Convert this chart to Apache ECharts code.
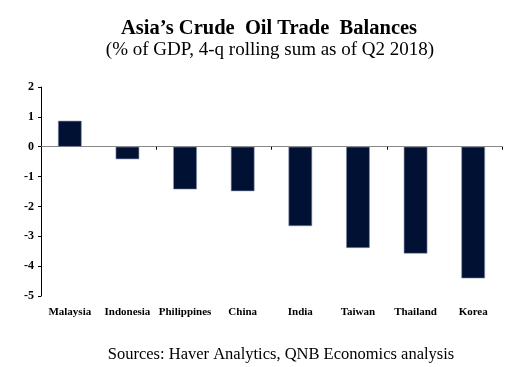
<!DOCTYPE html>
<html><head><meta charset="utf-8">
<script src="https://cdn.jsdelivr.net/npm/echarts@6/dist/echarts.min.js"></script>
<style>html,body{margin:0;padding:0;background:#fff}#c{width:520px;height:367px}</style>
</head><body><div id="c"></div>
<script>
const categories = ['Malaysia','Indonesia','Philippines','China','India','Taiwan','Thailand','Korea'];
const values = [0.87, -0.42, -1.43, -1.49, -2.66, -3.39, -3.58, -4.41];
const yTicks = {min: -5, max: 2, interval: 1};
const titleText = 'Asia\u2019s Crude  Oil Trade  Balances';
const subtitleText = '(% of GDP, 4-q rolling sum as of Q2 2018)';
const sourceText = 'Sources: Haver Analytics, QNB Economics analysis';

const serif = '"Liberation Serif", "Times New Roman", serif';
const chart = echarts.init(document.getElementById('c'));
chart.setOption({
  backgroundColor: '#fff',
  animation: false,
  title: [
    {text: titleText, left: 264, textAlign: 'center', top: 13, textStyle: {fontFamily: serif, fontSize: 20.5, fontWeight: 'bold', color: '#000'}},
    {text: subtitleText, left: 265, textAlign: 'center', top: 36, textStyle: {fontFamily: serif, fontSize: 19, fontWeight: 'normal', color: '#000'}},
    {text: sourceText, left: 276, textAlign: 'center', top: 341, textStyle: {fontFamily: serif, fontSize: 16.5, fontWeight: 'normal', color: '#000'}}
  ],
  grid: {left: 41, right: 18, top: 87, bottom: 71},
  xAxis: [
    {type: 'category', data: categories, position: 'bottom',
     axisLine: {onZero: true, lineStyle: {color: '#888', width: 1}},
     axisTick: {show: true, inside: false, length: 3, lineStyle: {color: '#000'}},
     axisLabel: {show: false}},
    {type: 'category', data: categories, position: 'bottom',
     axisLine: {show: false, onZero: false}, axisTick: {show: false},
     axisLabel: {show: true, interval: 0, margin: 11, fontFamily: serif, fontSize: 11, fontWeight: 'bold', color: '#000'}}
  ],
  yAxis: {type: 'value', min: yTicks.min, max: yTicks.max, interval: yTicks.interval,
    splitLine: {show: false},
    axisLine: {show: true, lineStyle: {color: '#000'}},
    axisTick: {show: true, length: 3, lineStyle: {color: '#000'}},
    axisLabel: {margin: 7, fontFamily: serif, fontSize: 12, fontWeight: 'bold', color: '#000'}},
  series: [{
    type: 'bar', xAxisIndex: 0, data: values, barWidth: '41%',
    itemStyle: {color: '#001133', borderColor: '#8a94aa', borderWidth: 0.6}
  }]
});
</script></body></html>
